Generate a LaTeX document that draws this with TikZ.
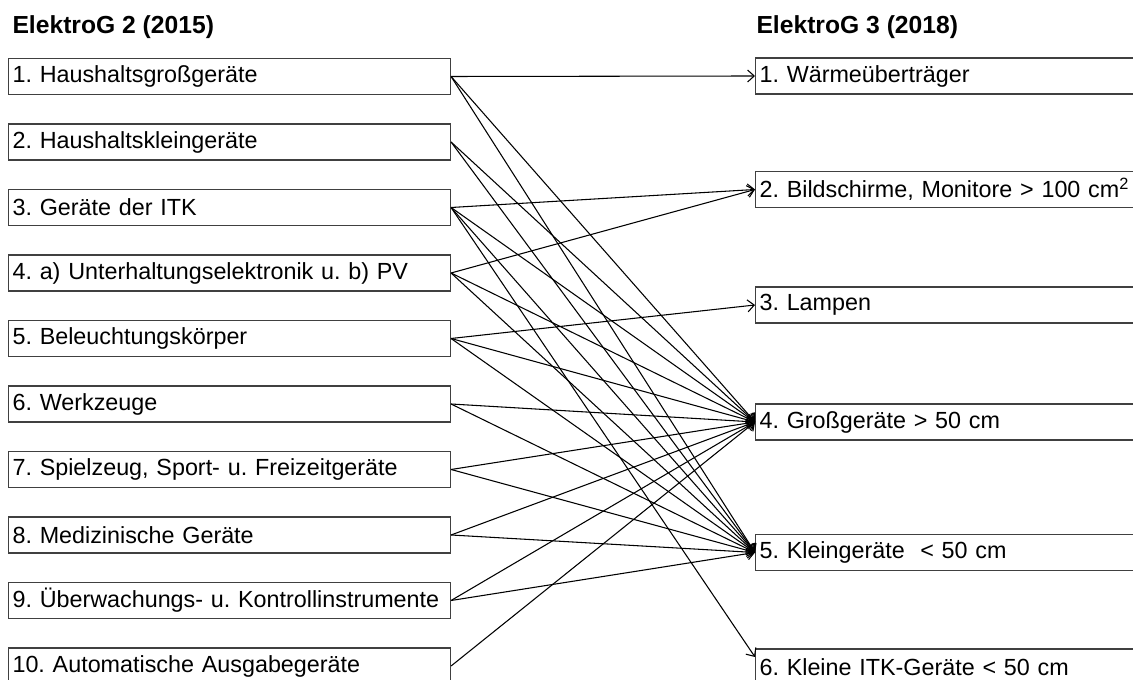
\documentclass[tikz,border=0pt]{standalone}
\usepackage{fontspec}
\setmainfont{Liberation Sans}
\usetikzlibrary{arrows.meta}
\usetikzlibrary{positioning}
\frenchspacing

\begin{document}
\begin{tikzpicture}[x=0.75pt,y=-0.75pt,line width=0.8pt,>={Straight Barb[length=5pt,width=9pt]}]
      \tikzstyle{every node}=[font=\fontsize{17.5}{21}\selectfont]
      \tikzstyle{header}=[anchor=west,inner sep=3pt,font=\fontsize{18.5}{22}\selectfont\bfseries]
      \tikzstyle{oldcat}=[draw=black!75,minimum height=27pt,text width=325.5pt,inner xsep=3pt,align=left]
      \tikzstyle{newcat}=[draw=black!75,minimum height=27pt,text width=282.75pt,inner xsep=3pt,align=left]
      \useasboundingbox (0,0) rectangle (1133,680);
      % 
      \node [header] (h2) at (8,27)   {ElektroG 2 (2015)};
      \node [header] (h3) at (752,27) {ElektroG 3 (2018)};
      % 
      \node [oldcat,anchor=west] (l1) at (8,76.5)        {1. Haushaltsgroßgeräte};
      \node [oldcat] (l2) [below of=l1, node distance=49.125] {2. Haushaltskleingeräte};
      \node [oldcat] (l3) [below of=l2, node distance=49.125] {3. Geräte der ITK};
      \node [oldcat] (l4) [below of=l3, node distance=49.125] {4. a) Unterhaltungselektronik u. b) PV};
      \node [oldcat] (l5) [below of=l4, node distance=49.125] {5. Beleuchtungskörper};
      \node [oldcat] (l6) [below of=l5, node distance=49.125] {6. Werkzeuge};
      \node [oldcat] (l7) [below of=l6, node distance=49.125] {7. Spielzeug, Sport- u. Freizeitgeräte};
      \node [oldcat] (l8) [below of=l7, node distance=49.125] {8. Medizinische Geräte};
      \node [oldcat] (l9) [below of=l8, node distance=49.125] {\mbox{9. Überwachungs- u. Kontrollinstrumente}};
      \node [oldcat] (l10) [below of=l9, node distance=49.125] {10. Automatische Ausgabegeräte};
      % 
      \node [newcat,anchor=west] (r1) at (755,76)        {1. Wärmeüberträger};
      \node [newcat] (r2) [below of=r1, node distance=85.125] {2. Bildschirme, Monitore > 100 cm\textsuperscript{2}};
      \node [newcat] (r3) [below of=r2, node distance=86.625] {3. Lampen};
      \node [newcat] (r4) [below of=r3, node distance=87.75]  {4. Großgeräte > 50 cm};
      \node [newcat] (r5) [below of=r4, node distance=97.875] {5. Kleingeräte \ < 50 cm};
      \node [newcat] (r6) [below of=r5, node distance=85.875] {6. Kleine ITK-Geräte < 50 cm};
      % 
      \path[->]
      (l1.east) edge (r1.west)
                edge (r4.west)
                edge (r5.west)
      (l2.east) edge (r4.west)
                edge (r5.west)
      (l3.east) edge (r2.west)
                edge (r4.west)
                edge (r5.west)
                edge ([yshift=7.5pt]r6.west)
      (l4.east) edge (r2.west)
                edge (r4.west)
                edge (r5.west)
      (l5.east) edge (r3.west)
                edge (r4.west)
                edge (r5.west)
      (l6.east) edge (r4.west)
                edge (r5.west)
      (l7.east) edge (r4.west)
                edge (r5.west)
      (l8.east) edge (r4.west)
                edge (r5.west)
      (l9.east) edge (r4.west)
                edge (r5.west)
      (l10.east) edge (r4.west);
    \end{tikzpicture}
\end{document}
